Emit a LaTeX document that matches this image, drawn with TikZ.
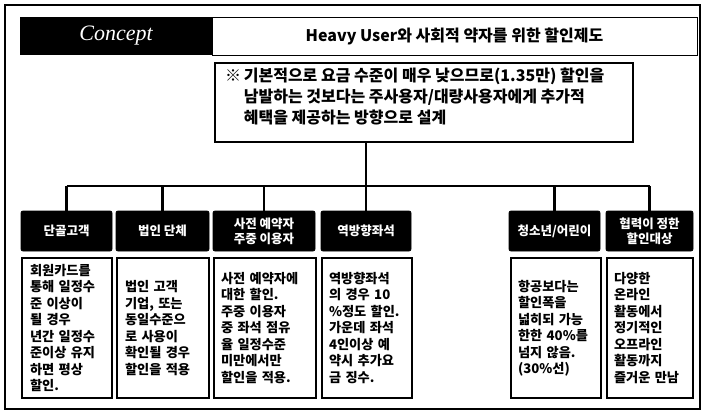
\documentclass[tikz,border=0pt]{standalone}
\usepackage{fontspec}
\setmainfont{Noto Sans CJK KR}
\newfontfamily\conceptfont{Liberation Serif}
\begin{document}
\begin{tikzpicture}[x=1pt,y=-1pt,
  frame/.style={draw=black,line width=1.3pt},
  blackbox/.style={fill=black,draw=black,line width=0.8pt,rounded corners=2pt,text=white,font=\fontsize{12.5}{15}\selectfont\bfseries,align=center,inner sep=0pt},
  bodybox/.style={draw=black,line width=1.3pt,fill=white,align=left,inner sep=0pt,text width=#1,font=\fontsize{13.2}{16.5}\selectfont\bfseries},
  conn/.style={draw=black,line width=2.4pt}
]
\useasboundingbox (0,0) rectangle (703,413);
% outer frame
\draw[frame,line width=1.4pt] (5,5) rectangle (700,409);
% concept and title
\node[fill=black,minimum width=192,minimum height=38,inner sep=0pt,text=white,font=\conceptfont\itshape\fontsize{22}{26}\selectfont] (concept) at (116,36) {Concept};
\node[draw=black,line width=0.9pt,minimum width=485,minimum height=38,inner sep=0pt,font=\fontsize{16}{19}\selectfont\bfseries] (title) at (454.5,36) {Heavy User와 사회적 약자를 위한 할인제도};
% note
\node[draw=black,line width=1.2pt,minimum width=418,minimum height=79,inner sep=0pt] (note) at (424,102.5) {};
\node[anchor=north west,inner sep=0pt,font=\fontsize{16}{21}\selectfont\bfseries,align=left] (notetext) at (225,67)
 {\begin{tabular}{@{}l@{\,}l@{}}※ & 기본적으로 요금 수준이 매우 낮으므로(1.35만) 할인을\\
  & 남발하는 것보다는 주사용자/대량사용자에게 추가적\\
  & 혜택을 제공하는 방향으로 설계\end{tabular}};
% headers
\node[blackbox,minimum width=91,minimum height=40] (h1) at (66.5,231) {단골고객};
\node[blackbox,minimum width=93,minimum height=40] (h2) at (162.5,231) {법인 단체};
\node[blackbox,minimum width=102,minimum height=40] (h3) at (264,231) {사전 예약자\\주중 이용자};
\node[blackbox,minimum width=90,minimum height=40] (h4) at (366,231) {역방향좌석};
\node[blackbox,minimum width=91,minimum height=40] (h5) at (554.5,231) {청소년/어린이};
\node[blackbox,minimum width=87,minimum height=40] (h6) at (649.5,231) {협력이 정한\\할인대상};
% body boxes
\node[bodybox=74pt,minimum width=90,minimum height=140] (b1) at (67,328) {회원카드를\\통해 일정수\\준 이상이\\될 경우\\년간 일정수\\준이상 유지\\하면 평상\\할인.};
\node[bodybox=76pt,minimum width=92,minimum height=140] (b2) at (163,328) {법인 고객\\기업, 또는\\동일수준으\\로 사용이\\확인될 경우\\할인을 적용};
\node[bodybox=88pt,minimum width=102,minimum height=140] (b3) at (265,328) {사전 예약자에\\대한 할인.\\주중 이용자\\중 좌석 점유\\율 일정수준\\미만에서만\\할인을 적용.};
\node[bodybox=76pt,minimum width=90,minimum height=140] (b4) at (367,328) {역방향좌석\\의 경우 10\\\%정도 할인.\\가운데 좌석\\4인이상 예\\약시 추가요\\금 징수.};
\node[bodybox=76pt,minimum width=90,minimum height=140] (b5) at (556,328) {항공보다는\\할인폭을\\넓히되 가능\\한한 40\%를\\넘지 않음.\\(30\%선)};
\node[bodybox=72pt,minimum width=86,minimum height=140] (b6) at (650,328) {다양한\\온라인\\활동에서\\정기적인\\오프라인\\활동까지\\즐거운 만남};
% connectors
\coordinate (bar) at (0,186);
\draw[conn] (note.south -| h4.north) -- (h4.north);
\draw[conn] (h1.north |- bar) -- (h6.north |- bar);
\foreach \h in {h1,h2,h3,h5,h6} {\draw[conn] (\h.north |- bar) -- (\h.north);}
\end{tikzpicture}
\end{document}
